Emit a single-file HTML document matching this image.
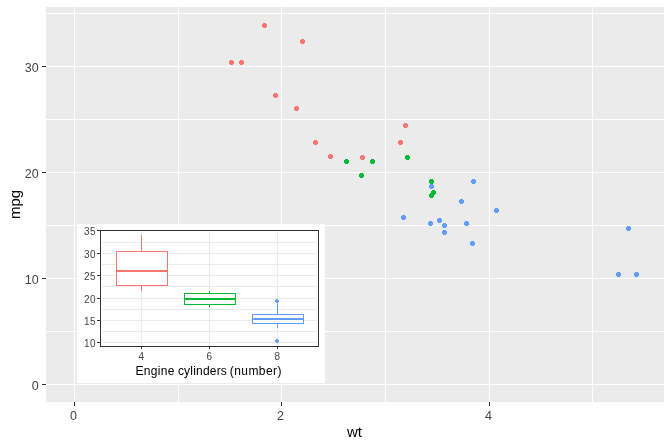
<!DOCTYPE html>
<html lang="en"><head><meta charset="utf-8"><title>mpg vs wt with inset boxplot</title>
<style>
html,body{margin:0;padding:0;background:#fff;}
body{width:672px;height:447px;overflow:hidden;}
svg{display:block;}
text{font-family:"Liberation Sans",Arial,Helvetica,sans-serif;}
.ax{font-size:12.5px;fill:#444;letter-spacing:0px;}
.ti{font-size:15px;fill:#000;}
.iax{font-size:10px;fill:#444;letter-spacing:0.5px;}
.iti{font-size:12px;fill:#000;letter-spacing:0px;}
</style></head><body>
<svg width="672" height="447" viewBox="0 0 672 447">
<rect width="672" height="447" fill="#fff"/>
<g shape-rendering="crispEdges">
<rect x="46" y="7" width="618" height="395" fill="#EBEBEB"/>
<g fill="#fff">
<rect x="178" y="7" width="1" height="395"/>
<rect x="385" y="7" width="1" height="395"/>
<rect x="592" y="7" width="1" height="395"/>
<rect x="74" y="7" width="1" height="395"/>
<rect x="281" y="7" width="1" height="395"/>
<rect x="489" y="7" width="1" height="395"/>
<rect x="46" y="331" width="618" height="1"/>
<rect x="46" y="225" width="618" height="1"/>
<rect x="46" y="119" width="618" height="1"/>
<rect x="46" y="13" width="618" height="1"/>
<rect x="46" y="384" width="618" height="1"/>
<rect x="46" y="278" width="618" height="1"/>
<rect x="46" y="172" width="618" height="1"/>
<rect x="46" y="66" width="618" height="1"/>
</g>
<path fill="#00BA38" d="M345 159h3v1h1v3h-1v1h-3v-1h-1v-3h1z"/>
<path fill="#00BA38" d="M371 159h3v1h1v3h-1v1h-3v-1h-1v-3h1z"/>
<path fill="#F8766D" d="M314 140h3v1h1v3h-1v1h-3v-1h-1v-3h1z"/>
<path fill="#00BA38" d="M406 155h3v1h1v3h-1v1h-3v-1h-1v-3h1z"/>
<path fill="#619CFF" d="M430 184h3v1h1v3h-1v1h-3v-1h-1v-3h1z"/>
<path fill="#00BA38" d="M432 190h3v1h1v3h-1v1h-3v-1h-1v-3h1z"/>
<path fill="#619CFF" d="M443 230h3v1h1v3h-1v1h-3v-1h-1v-3h1z"/>
<path fill="#F8766D" d="M404 123h3v1h1v3h-1v1h-3v-1h-1v-3h1z"/>
<path fill="#F8766D" d="M399 140h3v1h1v3h-1v1h-3v-1h-1v-3h1z"/>
<path fill="#00BA38" d="M430 179h3v1h1v3h-1v1h-3v-1h-1v-3h1z"/>
<path fill="#00BA38" d="M430 193h3v1h1v3h-1v1h-3v-1h-1v-3h1z"/>
<path fill="#619CFF" d="M495 208h3v1h1v3h-1v1h-3v-1h-1v-3h1z"/>
<path fill="#619CFF" d="M460 199h3v1h1v3h-1v1h-3v-1h-1v-3h1z"/>
<path fill="#619CFF" d="M465 221h3v1h1v3h-1v1h-3v-1h-1v-3h1z"/>
<path fill="#619CFF" d="M617 272h3v1h1v3h-1v1h-3v-1h-1v-3h1z"/>
<path fill="#619CFF" d="M635 272h3v1h1v3h-1v1h-3v-1h-1v-3h1z"/>
<path fill="#619CFF" d="M627 226h3v1h1v3h-1v1h-3v-1h-1v-3h1z"/>
<path fill="#F8766D" d="M301 39h3v1h1v3h-1v1h-3v-1h-1v-3h1z"/>
<path fill="#F8766D" d="M240 60h3v1h1v3h-1v1h-3v-1h-1v-3h1z"/>
<path fill="#F8766D" d="M263 23h3v1h1v3h-1v1h-3v-1h-1v-3h1z"/>
<path fill="#F8766D" d="M329 154h3v1h1v3h-1v1h-3v-1h-1v-3h1z"/>
<path fill="#619CFF" d="M438 218h3v1h1v3h-1v1h-3v-1h-1v-3h1z"/>
<path fill="#619CFF" d="M429 221h3v1h1v3h-1v1h-3v-1h-1v-3h1z"/>
<path fill="#619CFF" d="M471 241h3v1h1v3h-1v1h-3v-1h-1v-3h1z"/>
<path fill="#619CFF" d="M472 179h3v1h1v3h-1v1h-3v-1h-1v-3h1z"/>
<path fill="#F8766D" d="M274 93h3v1h1v3h-1v1h-3v-1h-1v-3h1z"/>
<path fill="#F8766D" d="M295 106h3v1h1v3h-1v1h-3v-1h-1v-3h1z"/>
<path fill="#F8766D" d="M230 60h3v1h1v3h-1v1h-3v-1h-1v-3h1z"/>
<path fill="#619CFF" d="M402 215h3v1h1v3h-1v1h-3v-1h-1v-3h1z"/>
<path fill="#00BA38" d="M360 173h3v1h1v3h-1v1h-3v-1h-1v-3h1z"/>
<path fill="#619CFF" d="M443 223h3v1h1v3h-1v1h-3v-1h-1v-3h1z"/>
<path fill="#F8766D" d="M361 155h3v1h1v3h-1v1h-3v-1h-1v-3h1z"/>
<g fill="#333">
<rect x="74" y="402" width="1" height="4"/>
<rect x="281" y="402" width="1" height="4"/>
<rect x="489" y="402" width="1" height="4"/>
<rect x="42" y="384" width="4" height="1"/>
<rect x="42" y="278" width="4" height="1"/>
<rect x="42" y="172" width="4" height="1"/>
<rect x="42" y="66" width="4" height="1"/>
</g>
</g>
<text class="ax" x="38.7" y="390" text-anchor="end">0</text>
<text class="ax" x="38.7" y="284" text-anchor="end">10</text>
<text class="ax" x="38.7" y="178" text-anchor="end">20</text>
<text class="ax" x="38.7" y="72" text-anchor="end">30</text>
<text class="ax" x="73.5" y="420" text-anchor="middle">0</text>
<text class="ax" x="280.5" y="420" text-anchor="middle">2</text>
<text class="ax" x="488.5" y="420" text-anchor="middle">4</text>
<text class="ti" x="354.5" y="437" text-anchor="middle">wt</text>
<text class="ti" transform="translate(20 204.5) rotate(-90)" text-anchor="middle">mpg</text>
<g shape-rendering="crispEdges">
<rect x="77" y="224" width="248" height="159" fill="#fff"/>
<g fill="#EBEBEB">
<rect x="102" y="331" width="215" height="1"/>
<rect x="102" y="309" width="215" height="1"/>
<rect x="102" y="286" width="215" height="1"/>
<rect x="102" y="264" width="215" height="1"/>
<rect x="102" y="242" width="215" height="1"/>
<rect x="102" y="342" width="215" height="1"/>
<rect x="102" y="320" width="215" height="1"/>
<rect x="102" y="298" width="215" height="1"/>
<rect x="102" y="275" width="215" height="1"/>
<rect x="102" y="253" width="215" height="1"/>
<rect x="141" y="232" width="1" height="113"/>
<rect x="209" y="232" width="1" height="113"/>
<rect x="277" y="232" width="1" height="113"/>
</g>
<g fill="#F8766D">
<rect x="141" y="235" width="1" height="16"/>
<rect x="141" y="285" width="1" height="6"/>
<rect x="116" y="251" width="52" height="35"/>
<rect x="117" y="252" width="50" height="33" fill="#fff"/>
<rect x="116" y="270" width="52" height="2"/>
</g>
<g fill="#00BA38">
<rect x="209" y="291" width="1" height="2"/>
<rect x="209" y="304" width="1" height="3"/>
<rect x="184" y="293" width="52" height="12"/>
<rect x="185" y="294" width="50" height="10" fill="#fff"/>
<rect x="184" y="298" width="52" height="2"/>
</g>
<g fill="#619CFF">
<path d="M276 339h2v1h1v2h-1v1h-2v-1h-1v-2h1z"/>
<path d="M276 299h2v1h1v2h-1v1h-2v-1h-1v-2h1z"/>
<rect x="277" y="303" width="1" height="11"/>
<rect x="277" y="323" width="1" height="5"/>
<rect x="252" y="314" width="52" height="10"/>
<rect x="253" y="315" width="50" height="8" fill="#fff"/>
<rect x="252" y="318" width="52" height="2"/>
</g>
<g fill="#333">
<rect x="100" y="230" width="219" height="1"/>
<rect x="100" y="346" width="219" height="1"/>
<rect x="100" y="230" width="1" height="117"/>
<rect x="318" y="230" width="1" height="117"/>
<rect x="97" y="342" width="3" height="1"/>
<rect x="97" y="320" width="3" height="1"/>
<rect x="97" y="298" width="3" height="1"/>
<rect x="97" y="275" width="3" height="1"/>
<rect x="97" y="253" width="3" height="1"/>
<rect x="97" y="230" width="3" height="1"/>
<rect x="141" y="347" width="1" height="2"/>
<rect x="209" y="347" width="1" height="2"/>
<rect x="277" y="347" width="1" height="2"/>
</g>
</g>
<text class="iax" x="96" y="347" text-anchor="end">10</text>
<text class="iax" x="96" y="325" text-anchor="end">15</text>
<text class="iax" x="96" y="303" text-anchor="end">20</text>
<text class="iax" x="96" y="280" text-anchor="end">25</text>
<text class="iax" x="96" y="258" text-anchor="end">30</text>
<text class="iax" x="96" y="235" text-anchor="end">35</text>
<text class="iax" x="141.5" y="360" text-anchor="middle">4</text>
<text class="iax" x="209.5" y="360" text-anchor="middle">6</text>
<text class="iax" x="277.5" y="360" text-anchor="middle">8</text>
<text class="iti" y="375"><tspan x="135.5" style="letter-spacing:0.33px">Engine </tspan><tspan x="177.9" style="letter-spacing:0.2px">cylinders </tspan><tspan x="229.8" style="letter-spacing:0.42px">(number)</tspan></text>
</svg>
</body></html>
